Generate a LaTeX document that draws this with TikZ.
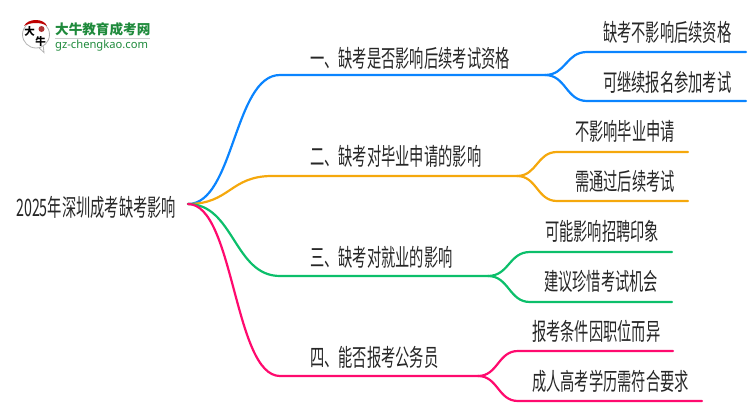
\documentclass[tikz,border=0pt]{standalone}
\usepackage{fontspec}
\setmainfont{Noto Sans}
\newfontfamily\cjk[FakeStretch=.594]{Noto Sans CJK SC}
\newfontfamily\logocjk{Noto Sans CJK SC}
\definecolor{lineblue}{HTML}{0A84FF}
\definecolor{lineorange}{HTML}{F5A80C}
\definecolor{linegreen}{HTML}{0CBF6B}
\definecolor{linepink}{HTML}{FF0A6E}
\definecolor{logogreen}{HTML}{1F8A3C}
\tikzset{
  txt/.style={anchor=west,inner sep=0pt,text=black!85,font=\fontsize{24}{24}\cjk},
  branch/.style={line width=2.2pt,line cap=round},
}
\begin{document}
\begin{tikzpicture}[x=1pt,y=-1pt]
  \useasboundingbox (0,0) rectangle (750,410);

  % logo
  \draw[black!30,fill=white,line width=.8pt] (37,46) -- (44,52.5) -- (43,44);
  \draw[black!30,fill=white,line width=.8pt] (36,34.5) circle (13.5);
  \fill[red!75!black] (24,26) .. controls (28,18) and (44,18) .. (47,26) .. controls (42,22) and (30,22) .. (24,26) -- cycle;
  \fill[red!60!black!80] (41.5,29) circle (3);
  \node[inner sep=0pt,font=\fontsize{10.5}{10.5}\logocjk\bfseries] (logoa) at (29.5,31) {大};
  \node[inner sep=0pt,font=\fontsize{10.5}{10.5}\logocjk\bfseries] (logob) at (40.5,41.5) {牛};
  \node[anchor=west,inner sep=0pt,text=logogreen,font=\fontsize{13.6}{14}\logocjk\bfseries] (logoname) at (55,29) {大牛教育成考网};
  \draw[black!20,line width=.8pt] (55,38.5) -- (150,38.5);
  \node[anchor=west,inner sep=0pt,text=logogreen,font=\fontsize{11.2}{11}\selectfont] (logourl) at (55,45.5) {gz-chengkao.com};

  % labels
  \begin{scope}[every node/.style={txt}]
    \node (root) at (16,207) {2025年深圳成考缺考影响};
    \node (a) at (310,58)  {一、缺考是否影响后续考试资格};
    \node (b) at (310,156) {二、缺考对毕业申请的影响};
    \node (c) at (310,257) {三、缺考对就业的影响};
    \node (d) at (310,357) {四、能否报考公务员};
    \node (a1) at (603,32)  {缺考不影响后续资格};
    \node (a2) at (603,82)  {可继续报名参加考试};
    \node (b1) at (575,131) {不影响毕业申请};
    \node (b2) at (575,181) {需通过后续考试};
    \node (c1) at (545,231) {可能影响招聘印象};
    \node (c2) at (544,281) {建议珍惜考试机会};
    \node (d1) at (532,331) {报考条件因职位而异};
    \node (d2) at (532,381) {成人高考学历需符合要求};
  \end{scope}

  % line ends
  \coordinate (start) at (188,204);
  \coordinate (as) at (280,75);  \coordinate (af) at (545,75);
  \coordinate (bs) at (272,176); \coordinate (bf) at (517,176);
  \coordinate (cs) at (280,276); \coordinate (cf) at (488,276);
  \coordinate (ds) at (280,376); \coordinate (df) at (478,376);
  \coordinate (a1s) at (587,52);  \coordinate (a1e) at (746,52);
  \coordinate (a2s) at (587,101); \coordinate (a2e) at (746,101);
  \coordinate (b1s) at (557,152); \coordinate (b1e) at (688,152);
  \coordinate (b2s) at (557,201); \coordinate (b2e) at (688,201);
  \coordinate (c1s) at (530,252); \coordinate (c1e) at (672,252);
  \coordinate (c2s) at (530,302); \coordinate (c2e) at (672,302);
  \coordinate (d1s) at (518,351); \coordinate (d1e) at (673,351);
  \coordinate (d2s) at (518,401); \coordinate (d2e) at (702,401);

  \draw[branch,lineblue] (start) .. controls +(46,0) and +(-46,0) .. (as) -- (af);
  \draw[branch,lineblue] (af) .. controls +(21,0) and +(-21,0) .. (a1s) -- (a1e);
  \draw[branch,lineblue] (af) .. controls +(21,0) and +(-21,0) .. (a2s) -- (a2e);

  \draw[branch,lineorange] (start) .. controls +(42,0) and +(-42,0) .. (bs) -- (bf);
  \draw[branch,lineorange] (bf) .. controls +(20,0) and +(-20,0) .. (b1s) -- (b1e);
  \draw[branch,lineorange] (bf) .. controls +(20,0) and +(-20,0) .. (b2s) -- (b2e);

  \draw[branch,linegreen] (start) .. controls +(46,0) and +(-46,0) .. (cs) -- (cf);
  \draw[branch,linegreen] (cf) .. controls +(21,0) and +(-21,0) .. (c1s) -- (c1e);
  \draw[branch,linegreen] (cf) .. controls +(21,0) and +(-21,0) .. (c2s) -- (c2e);

  \draw[branch,linepink] (start) .. controls +(46,0) and +(-46,0) .. (ds) -- (df);
  \draw[branch,linepink] (df) .. controls +(20,0) and +(-20,0) .. (d1s) -- (d1e);
  \draw[branch,linepink] (df) .. controls +(20,0) and +(-20,0) .. (d2s) -- (d2e);
\end{tikzpicture}
\end{document}
